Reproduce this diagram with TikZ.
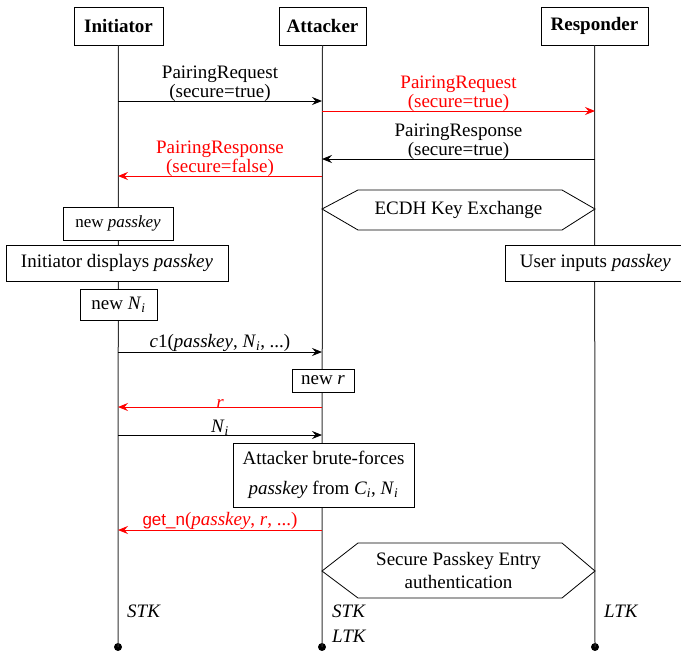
\documentclass[tikz,border=0pt]{standalone}
\usepackage{fontspec}
\setmainfont{Liberation Serif}
\newfontfamily\codefont{Liberation Sans}
\usetikzlibrary{arrows.meta}
% italic variables, set as text so they share the serif face
\newcommand{\va}[1]{\textit{#1}}
\newcommand{\vsub}[2]{\textit{#1}\textsubscript{\textit{#2}}}
\tikzset{
  x=1pt, y=-1pt,
  txt/.style={font=\fontsize{19}{19}\selectfont},
  head/.style={draw, thick, font=\fontsize{19}{19}\selectfont\bfseries,
    minimum height=38pt, inner xsep=6pt},
  actbox/.style={draw, thick, fill=white, txt, inner sep=0pt},
  life/.style={draw=black!80, line width=1pt},
  msg/.style={line width=0.9pt, -{Stealth[length=10pt,width=8pt,inset=3.5pt]}},
  bad/.style={msg, red},
  lab/.style={txt, align=center, inner sep=1pt, anchor=south},
  hexa/.style={draw, thick, fill=white},
  endpt/.style={circle, fill=black, inner sep=0pt, minimum size=8pt},
  keylab/.style={txt, anchor=north west, align=left, inner sep=0pt,
    font=\fontsize{19}{25}\selectfont}
}
\begin{document}
\begin{tikzpicture}
\useasboundingbox (0,0) rectangle (681,651);

% participants
\node[head, minimum width=89pt] (ini) at (118.5,26) {Initiator};
\node[head, minimum width=87pt] (att) at (322.5,26) {Attacker};
\node[head, minimum width=107pt] (res) at (594.5,26) {Responder};

% lifeline ends
\node[endpt] (iniend) at (118,647) {};
\node[endpt] (attend) at (322,647) {};
\node[endpt] (resend) at (595,647) {};

\draw[life] (ini.south) -- (iniend.center);
\draw[life] (att.south) -- (attend.center);
\draw[life] (res.south) -- (resend.center);

% message end points on the lifelines
\coordinate (i1) at (118,101);  \coordinate (a1) at (322,101);
\coordinate (a2) at (322,111);  \coordinate (r2) at (595,111);
\coordinate (r3) at (595,159);  \coordinate (a3) at (322,159);
\coordinate (a4) at (322,176);  \coordinate (i4) at (118,176);
\coordinate (i5) at (118,352);  \coordinate (a5) at (322,352);
\coordinate (a6) at (322,407);  \coordinate (i6) at (118,407);
\coordinate (i7) at (118,435);  \coordinate (a7) at (322,435);
\coordinate (a8) at (322,530);  \coordinate (i8) at (118,530);

% pairing feature exchange
\draw[msg] (i1) -- node[lab, pos=0.5, above=-1.5pt] {PairingRequest\\(secure=true)} (a1);
\draw[bad] (a2) -- node[lab, red, pos=0.5, above=-1.5pt] {PairingRequest\\(secure=true)} (r2);
\draw[msg] (r3) -- node[lab, pos=0.5, above=-1.5pt] {PairingResponse\\(secure=true)} (a3);
\draw[bad] (a4) -- node[lab, red, pos=0.5, above=-1.5pt] {PairingResponse\\(secure=false)} (i4);

% ECDH key exchange between attacker and responder
\draw[hexa] (322,209) -- (358,190) -- (562,190) -- (595,209) -- (562,230) -- (358,230) -- cycle;
\node[txt] (ecdh) at (458.5,209.5) {ECDH Key Exchange};

% local actions
\node[actbox, minimum width=110pt, minimum height=33pt,
      font=\fontsize{17}{17}\selectfont] (newpk) at (118,223.5) {new \va{passkey}};
\node[actbox, minimum width=222pt, minimum height=36pt] (disp) at (117,263) {Initiator displays \va{passkey}};
\node[actbox, minimum width=200pt, minimum height=36pt, anchor=west] (uin) at (505,263) {\hspace*{-20pt}User inputs \va{passkey}};
\node[actbox, minimum width=77pt, minimum height=31pt] (newni) at (118.5,304.5) {new \vsub{N}{i}};

\draw[msg] (i5) -- node[lab, pos=0.5, above=-1pt] {\va{c}1(\va{passkey}, \vsub{N}{i}, ...)} (a5);

\node[actbox, minimum width=62pt, minimum height=23pt] (newr) at (323,380.5) {new \va{r}};

\draw[bad] (a6) -- node[lab, red, pos=0.5, above=-2.5pt] {\va{r}} (i6);
\draw[msg] (i7) -- node[lab, pos=0.5, above=-1.5pt] {\vsub{N}{i}} (a7);

\node[actbox, minimum width=181pt, minimum height=64pt, align=center,
      font=\fontsize{19}{30}\selectfont] (brute) at (323.5,475)
      {Attacker brute-forces\\\va{passkey} from \vsub{C}{i}, \vsub{N}{i}};

\draw[bad] (a8) -- node[lab, red, pos=0.5, above=-1pt] {{\codefont\fontsize{17}{17}\selectfont get\_n}(\va{passkey}, \va{r}, ...)} (i8);

% passkey entry authentication
\draw[hexa] (322,571) -- (358,543) -- (562,543) -- (595,571) -- (562,598) -- (358,598) -- cycle;
\node[txt, align=center, font=\fontsize{19}{23}\selectfont] (spe) at (458.5,570.5) {Secure Passkey Entry\\authentication};

% resulting keys
\node[keylab] (kini) at (127,605) {\va{STK}};
\node[keylab] (katt) at (332,605) {\va{STK}\\\va{LTK}};
\node[keylab] (kres) at (604,605) {\va{LTK}};
\end{tikzpicture}
\end{document}
